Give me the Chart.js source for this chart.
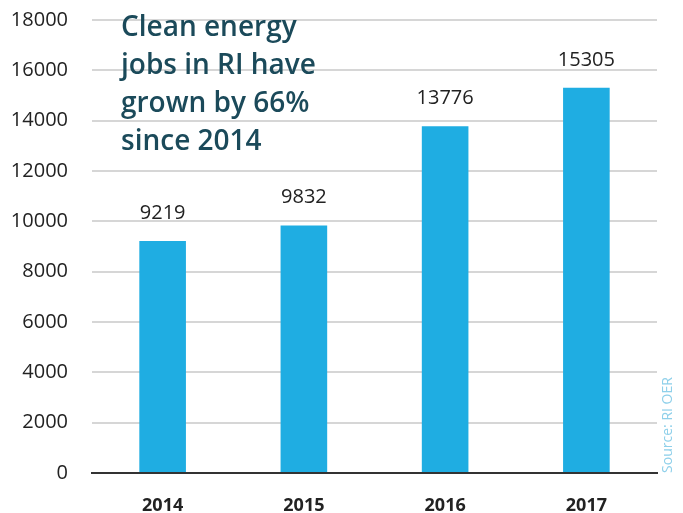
<!DOCTYPE html>
<html>
<head>
<meta charset="utf-8">
<script src="https://cdn.jsdelivr.net/npm/chart.js@4"></script>
<style>
  html, body { margin: 0; padding: 0; background: #fff; }
  #wrap { width: 683px; height: 513px; position: relative; }
</style>
</head>
<body>
<div id="wrap"><canvas id="chart"></canvas></div>
<script>
// Datos del gráfico
const years = ['2014', '2015', '2016', '2017']
const jobs = [9219, 9832, 13776, 15305]
const titleLines = ['Clean energy', 'jobs in RI have', 'grown by 66%', 'since 2014']
const sourceText = 'Source: RI OER'

const fontFamily = '"Open Sans", "DejaVu Sans", sans-serif'

// Etiquetas encima de cada barra
const valueLabels = {
  id: 'valueLabels',
  afterDatasetsDraw(chart) {
    const ctx = chart.ctx
    const meta = chart.getDatasetMeta(0)
    ctx.save()
    ctx.font = '20px ' + fontFamily
    ctx.fillStyle = '#222'
    ctx.textAlign = 'center'
    ctx.textBaseline = 'middle'
    meta.data.forEach((bar, i) => {
      ctx.fillText(String(jobs[i]), bar.x, bar.y - 28)
    })
    ctx.restore()
  }
}

// Título dentro del área y fuente vertical
const overlayText = {
  id: 'overlayText',
  afterDraw(chart) {
    const ctx = chart.ctx
    const area = chart.chartArea
    ctx.save()
    ctx.font = '600 28px ' + fontFamily
    ctx.fillStyle = '#1b4a5a'
    ctx.textAlign = 'left'
    ctx.textBaseline = 'middle'
    titleLines.forEach((line, i) => {
      ctx.fillText(line, 121, 28 + i * 38)
    })
    ctx.translate(area.right + 11, area.bottom - 48)
    ctx.rotate(-Math.PI / 2)
    ctx.font = '14px ' + fontFamily
    ctx.fillStyle = '#8fd0ea'
    ctx.textAlign = 'center'
    ctx.fillText(sourceText, 0, 0)
    ctx.restore()
  }
}

new Chart(document.getElementById('chart'), {
  type: 'bar',
  data: {
    labels: years,
    datasets: [{
      data: jobs,
      backgroundColor: '#1fade2',
      borderWidth: 0,
      barPercentage: 0.33,
      categoryPercentage: 1
    }]
  },
  options: {
    responsive: true,
    maintainAspectRatio: false,
    animation: false,
    layout: { padding: { top: 0, right: 26, bottom: 0, left: 0 } },
    plugins: {
      legend: { display: false },
      tooltip: { enabled: false }
    },
    scales: {
      x: {
        grid: { display: false, drawTicks: false },
        border: { color: '#333', width: 2 },
        afterFit: (scale) => { scale.height = 40 },
        ticks: {
          padding: 22,
          color: '#222',
          font: { family: fontFamily, size: 18, weight: 'bold' }
        }
      },
      y: {
        min: 0,
        max: 18000,
        grid: { color: '#d6d6d6', lineWidth: 2, drawTicks: false },
        border: { display: false },
        afterFit: (scale) => {
          scale.width = 92
          scale.paddingTop = 20
        },
        ticks: {
          stepSize: 2000,
          padding: 24,
          color: '#222',
          font: { family: fontFamily, size: 20 },
          callback: (v) => String(v)
        }
      }
    }
  },
  plugins: [valueLabels, overlayText]
})
</script>
</body>
</html>
